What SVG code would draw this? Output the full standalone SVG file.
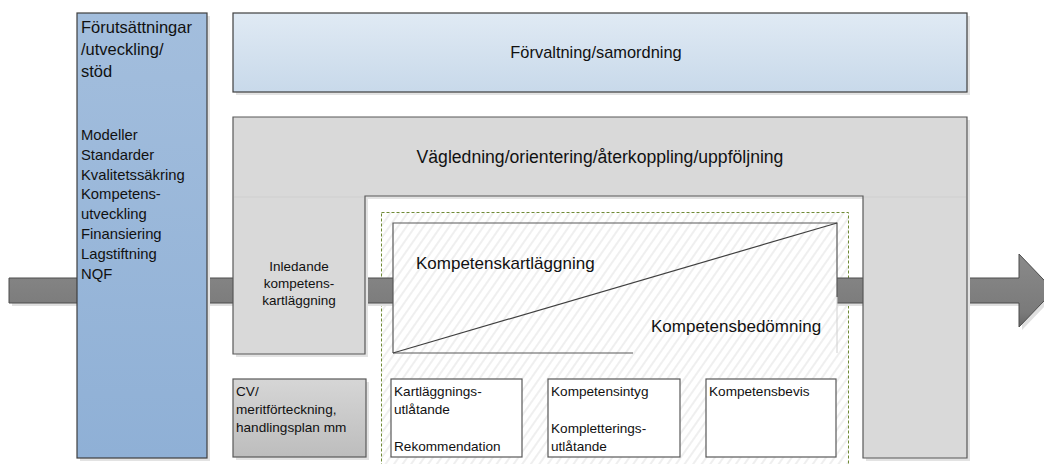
<svg xmlns="http://www.w3.org/2000/svg" width="1044" height="464" viewBox="0 0 1044 464">
<style>
text{font-family:"Liberation Sans",Arial,sans-serif;fill:#111}
.box{stroke:#595959;stroke-width:1.2}
.shadow{fill:#e3e3e3}
.lbl{font-size:13.6px}
.list{font-size:14.8px}
</style>
<defs>
<linearGradient id="gBlue" x1="0" y1="0" x2="0" y2="1"><stop offset="0" stop-color="#a3bedd"/><stop offset="1" stop-color="#8fb0d6"/></linearGradient>
<linearGradient id="gTop" x1="0" y1="0" x2="0" y2="1"><stop offset="0" stop-color="#e0eaf4"/><stop offset="1" stop-color="#c8d9ea"/></linearGradient>
<linearGradient id="gCV" x1="0" y1="0" x2="0" y2="1"><stop offset="0" stop-color="#d6d6d6"/><stop offset="1" stop-color="#bdbdbd"/></linearGradient>
<linearGradient id="gArrow" x1="0" y1="0" x2="0" y2="1"><stop offset="0" stop-color="#8a8a8a"/><stop offset="0.8" stop-color="#7a7a7a"/><stop offset="1" stop-color="#666"/></linearGradient>
<pattern id="hatch" width="7" height="7" patternUnits="userSpaceOnUse" patternTransform="rotate(35)">
<rect width="7" height="7" fill="#fff"/>
<line x1="1" y1="0" x2="1" y2="7" stroke="#e0e0e0" stroke-width="1"/>
</pattern>
</defs>
<rect width="1044" height="464" fill="#fff"/>

<g id="hatch-area">
<rect x="381.5" y="212.5" width="467" height="260" fill="url(#hatch)" stroke="#6f8a35" stroke-width="1" stroke-dasharray="3,2"/>
</g>

<g id="connectors">
<path d="M12,281 H1022 V257 L1057,293.5 L1022,330 V306 H12 Z" fill="#e0e0e0"/>
<path d="M9,278 H1019 V254 L1054,290.5 L1019,327 V303 H9 Z" fill="url(#gArrow)" stroke="#4d4d4d" stroke-width="1"/>
</g>

<g id="vagledning">
<path d="M236,120 H970 V461 H866 V199 H368 V357 H236 Z" class="shadow"/>
<path d="M233,117 H967 V458 H863 V196 H365 V354 H233 Z" fill="#d9d9d9" class="box"/>
<line x1="234" y1="197" x2="364" y2="197" stroke="#cfcfcf"/>
<line x1="864" y1="197" x2="966" y2="197" stroke="#cfcfcf"/>
<text x="600" y="163" text-anchor="middle" font-size="17.6">Vägledning/orientering/återkoppling/uppföljning</text>
<text x="299" y="271" text-anchor="middle" font-size="13.5">Inledande</text>
<text x="299" y="288" text-anchor="middle" font-size="13.5">kompetens-</text>
<text x="299" y="305" text-anchor="middle" font-size="13.5">kartläggning</text>
</g>

<g id="forutsattningar">
<rect x="80" y="16" width="130" height="445" class="shadow"/>
<rect x="77" y="13" width="130" height="445" fill="url(#gBlue)" stroke="#3f3f3f" stroke-width="1.2"/>
<text x="81" y="33" font-size="16.5">Förutsättningar</text>
<text x="81" y="55" font-size="16.5">/utveckling/</text>
<text x="81" y="77" font-size="16.5">stöd</text>
<text x="81" y="140" class="list">Modeller</text>
<text x="81" y="160" class="list">Standarder</text>
<text x="81" y="180" class="list">Kvalitetssäkring</text>
<text x="81" y="199" class="list">Kompetens-</text>
<text x="81" y="219" class="list">utveckling</text>
<text x="81" y="239" class="list">Finansiering</text>
<text x="81" y="259" class="list">Lagstiftning</text>
<text x="81" y="279" class="list">NQF</text>
</g>

<g id="forvaltning">
<rect x="236" y="16" width="734" height="79" class="shadow"/>
<rect x="233" y="13" width="734" height="79" fill="url(#gTop)" stroke="#3f3f3f" stroke-width="1.2"/>
<text x="596" y="58" text-anchor="middle" font-size="16.4">Förvaltning/samordning</text>
</g>

<g id="kartlaggning-bedomning">
<rect x="393" y="223" width="444" height="130" fill="url(#hatch)"/>
<line x1="837" y1="297" x2="837" y2="353" stroke="#d0d0d0" stroke-width="1"/>
<path d="M393,353 V223 H837 V297" fill="none" stroke="#595959" stroke-width="1.2"/>
<line x1="393" y1="353" x2="633" y2="353" stroke="#595959" stroke-width="1.2"/>
<line x1="393" y1="353" x2="837" y2="223" stroke="#404040" stroke-width="1.2"/>
<text x="416" y="269" font-size="17">Kompetenskartläggning</text>
<text x="651" y="332" font-size="17">Kompetensbedömning</text>
</g>

<g id="cv">
<rect x="236" y="382" width="133" height="78" class="shadow"/>
<rect x="233" y="379" width="133" height="78" fill="url(#gCV)" class="box"/>
<text x="236" y="396" class="lbl">CV/</text>
<text x="236" y="414" class="lbl">meritförteckning,</text>
<text x="236" y="432" class="lbl">handlingsplan mm</text>
</g>

<g id="kartlaggningsutlatande">
<rect x="391" y="379" width="131" height="78" fill="#fff" class="box"/>
<text x="394" y="396" class="lbl">Kartläggnings-</text>
<text x="394" y="414" class="lbl">utlåtande</text>
<text x="394" y="451" class="lbl">Rekommendation</text>
</g>

<g id="kompetensintyg">
<rect x="548" y="379" width="132" height="78" fill="#fff" class="box"/>
<text x="551" y="396" class="lbl">Kompetensintyg</text>
<text x="551" y="433" class="lbl">Kompletterings-</text>
<text x="551" y="451" class="lbl">utlåtande</text>
</g>

<g id="kompetensbevis">
<rect x="706" y="379" width="130" height="78" fill="#fff" class="box"/>
<text x="709" y="396" class="lbl">Kompetensbevis</text>
</g>
</svg>
